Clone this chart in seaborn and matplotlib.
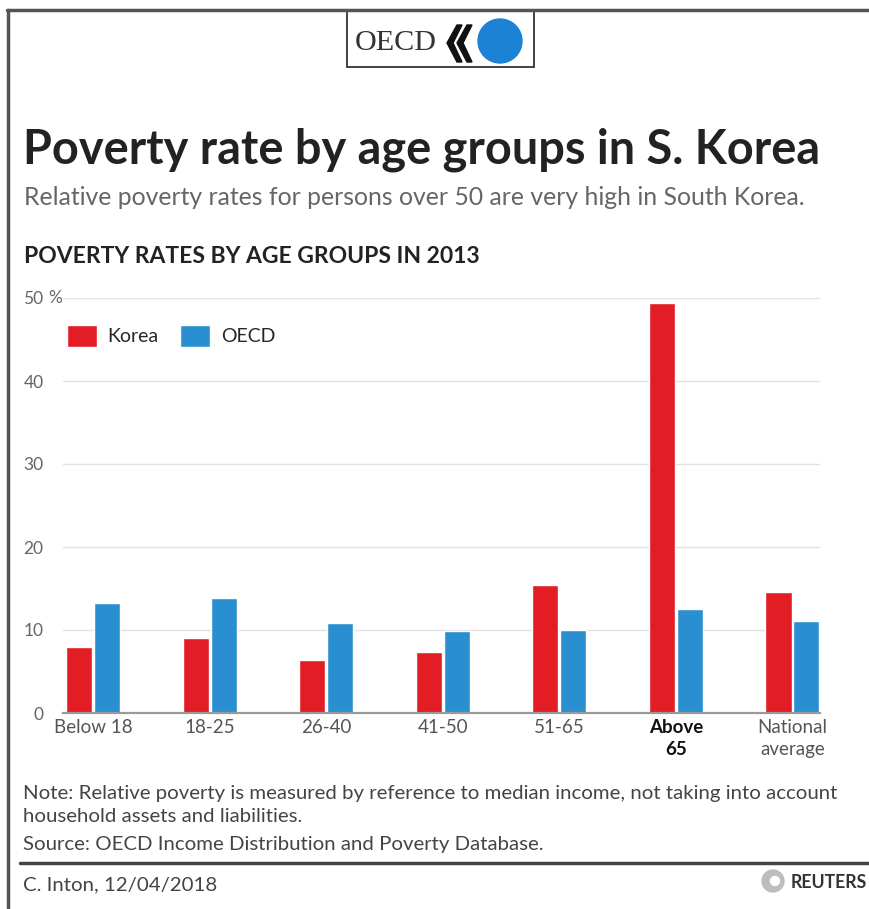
import pandas as pd
import seaborn as sns
import matplotlib.pyplot as plt
from matplotlib.patches import Rectangle, Circle, Polygon
from matplotlib.lines import Line2D
from matplotlib.transforms import IdentityTransform

groups = ['Below 18', '18-25', '26-40', '41-50', '51-65', 'Above\n65', 'National\naverage']
korea = [8.0, 9.0, 6.4, 7.4, 15.4, 49.4, 14.6]
oecd = [13.2, 13.8, 10.9, 9.9, 10.0, 12.5, 11.1]
series = ['Korea', 'OECD']
colors = ['#e31d25', '#2a8fd0']
yticks = [0, 10, 20, 30, 40, 50]

df = pd.DataFrame({'group': groups * 2,
                   'series': [series[0]] * len(korea) + [series[1]] * len(oecd),
                   'rate': korea + oecd})

sns.set_theme(style='white')
plt.rcParams['font.family'] = ['Lato', 'DejaVu Sans']

W, H = 869, 909
fig = plt.figure(figsize=(W / 100, H / 100), dpi=100)
ident = IdentityTransform()

def P(x, y):
    # pixel coords measured from the top-left of the picture
    return x, H - y

def ftext(x, y, s, width=None, **kw):
    t = fig.text(*P(x, y), s, transform=ident, **kw)
    if width:
        r = fig.canvas.get_renderer()
        w = t.get_window_extent(r).width
        t.set_fontsize(t.get_fontsize() * width / w)
    return t

ax = fig.add_axes([63 / W, 1 - 713 / H, (820 - 63) / W, (713 - 298) / H])
sns.barplot(data=df, x='group', y='rate', hue='series', palette=colors,
            saturation=1, width=0.48, gap=0.07, errorbar=None, ax=ax)

ax.set_xlim(-0.257, 6.236)
ax.set_ylim(0, 50)
ax.set_xlabel('')
ax.set_ylabel('')
ax.set_yticks(yticks)
ax.set_yticklabels([str(v) for v in yticks])
ax.yaxis.grid(True, color='#e2e2e2', lw=1)
ax.set_axisbelow(True)
for s in ['top', 'right', 'left']:
    ax.spines[s].set_visible(False)
ax.spines['bottom'].set_color('#9a9a9a')
ax.spines['bottom'].set_linewidth(1.6)
ax.tick_params(axis='y', length=0, pad=14, labelsize=12.5, labelcolor='#666666')
ax.tick_params(axis='x', length=0, pad=4, labelsize=13.5, labelcolor='#555555')
for lab in ax.get_xticklabels():
    lab.set_linespacing(1.4)
    if lab.get_text().startswith('Above'):
        lab.set_fontweight('bold')
        lab.set_color('#111111')
ftext(48, 298, '%', fontsize=12.5, color='#666666', va='center')

handles, labels = ax.get_legend_handles_labels()
ax.legend(handles, labels, loc='upper left', bbox_to_anchor=(0.005, 0.935),
          frameon=False, fontsize=14, handlelength=1.55, handleheight=1.35,
          handletextpad=0.55, columnspacing=1.1, ncol=2, borderpad=0,
          borderaxespad=0)

# frame and OECD logo box
fig.add_artist(Line2D([7, W], [H - 9.5, H - 9.5], transform=ident, color='#555555', lw=2.5))
fig.add_artist(Line2D([8, 8], [0, H - 9.5], transform=ident, color='#555555', lw=2.5))
fig.add_artist(Rectangle(P(347, 67), 187, 57, transform=ident, fill=False,
                         edgecolor='#222222', lw=1.2))
ftext(355, 50, 'OECD', width=82, fontsize=20, family='Liberation Serif', color='#333333')
for dx in [0, 10]:
    pts = [P(457 + dx, 25), P(462 + dx, 25), P(453 + dx, 43), P(462 + dx, 62),
           P(457 + dx, 62), P(447 + dx, 43)]
    fig.add_artist(Polygon(pts, closed=True, transform=ident, color='#111111'))
fig.add_artist(Circle(P(500, 41), 22, transform=ident, color='#1b82d6'))

# titles
ftext(23, 163, 'Poverty rate by age groups in S. Korea', width=797,
      fontsize=26, fontweight='bold', color='#222222')
ftext(24, 205, 'Relative poverty rates for persons over 50 are very high in South Korea.',
      width=782, fontsize=15, color='#666666')
ftext(24, 263, 'POVERTY RATES BY AGE GROUPS IN 2013', width=454,
      fontsize=13, fontweight='bold', color='#222222')

# notes and footer
ftext(23, 799, 'Note: Relative poverty is measured by reference to median income, not taking into account',
      width=812, fontsize=13, color='#444444')
ftext(23, 822, 'household assets and liabilities.', fontsize=13, color='#444444')
fig.texts[-1].set_fontsize(fig.texts[-2].get_fontsize())
ftext(23, 850, 'Source: OECD Income Distribution and Poverty Database.',
      fontsize=fig.texts[-1].get_fontsize(), color='#444444')
fig.add_artist(Line2D([20, W], [H - 863, H - 863], transform=ident, color='#444444', lw=2.5))
ftext(23, 890, 'C. Inton, 12/04/2018', fontsize=fig.texts[-1].get_fontsize(), color='#444444')
fig.add_artist(Circle(P(773, 881), 11, transform=ident, color='#bdbdbd'))
fig.add_artist(Circle(P(775, 881), 4.5, transform=ident, color='white'))
ftext(791, 888, 'REUTERS', width=76, fontsize=11, fontweight='bold', color='#333333')

fig.savefig('out.png', dpi=100, facecolor='white')
